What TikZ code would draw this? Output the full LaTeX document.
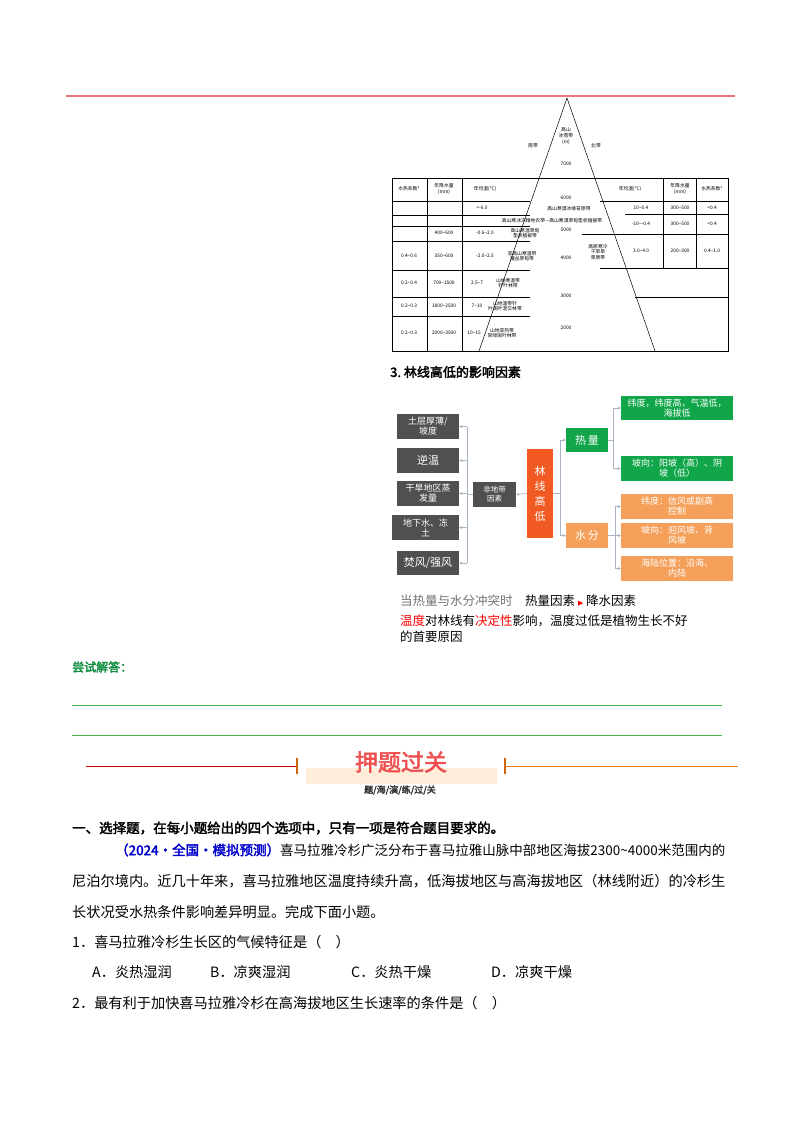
\documentclass[tikz,border=0pt]{standalone}
\usepackage{fontspec}
\usepackage{graphicx}
\setmainfont[AutoFakeBold=2.5]{Noto Sans CJK SC}
\newfontfamily\symf{DejaVu Sans}
\usetikzlibrary{arrows.meta}
\newcommand{\tld}{\textasciitilde}
\definecolor{gbox}{HTML}{505050}
\definecolor{grn}{HTML}{12A64A}
\definecolor{org}{HTML}{F5A05A}
\definecolor{ored}{HTML}{F15A22}
\definecolor{ttl}{HTML}{EE4F4F}
\definecolor{conn}{HTML}{A8B4C4}
\begin{document}
\begin{tikzpicture}[x=1pt,y=-1pt,
  box/.style={draw=none,fill=#1,text=white,inner sep=1pt,align=center,font=\fontsize{9}{10}\selectfont},
  arr/.style={conn,line width=0.7pt,-{Stealth[length=3pt,width=3pt]}},
  cl/.style={conn,line width=0.7pt},
  tb/.style={line width=0.5pt},
  tt/.style={font=\fontsize{4.8}{5.6}\selectfont,inner sep=0pt,align=center},
  body/.style={anchor=west,inner sep=0pt,font=\fontsize{14.2}{15}\selectfont}]
\useasboundingbox (0,0) rectangle (800,1132);
\fill[white] (0,0) rectangle (800,1132);
\draw[ttl!80,line width=1.8pt] (66,96) -- (735,96);
% mountain table
\draw[tb] (392,178) rectangle (728,351);
\draw[tb] (567,98) -- (479,351);
\draw[tb] (567,98) -- (655,351);
\foreach \y in {201,215,226,241,270,297,316} \draw[tb] (392,\y) -- (530,\y);
\draw[tb] (427,178) -- (427,351);
\draw[tb] (462,178) -- (462,351);
\draw[tb] (600,201) -- (728,201);
\draw[tb] (625,214) -- (728,214);
\draw[tb] (582,234) -- (728,234);
\draw[tb] (600,268) -- (728,268);
\draw[tb] (663,178) -- (663,268);
\draw[tb] (696,178) -- (696,268);
\draw[tb] (635,297) -- (728,297);
\node[tt] (m1) at (566,136) {高山\\冰雪带\\(m)};
\node[tt] (m2) at (533,146) {南带};
\node[tt] (m3) at (596,146) {北带};
\foreach \t/\y in {7000/164,6000/198,5000/230,4000/258,3000/296,2000/328} \node[tt] at (566,\y) {\t};
\node[tt] (h1) at (409,189) {水热系数*};
\node[tt] (h2) at (444,189) {年降水量\\(mm)};
\node[tt] (h3) at (485,189) {年均温(℃)};
\node[tt] (h4) at (630,189) {年均温(℃)};
\node[tt] (h5) at (680,189) {年降水量\\(mm)};
\node[tt] (h6) at (712,189) {水热系数*};
\node[tt] at (482,208) {<-6.0};
\node[tt] at (569,209) {高山寒漠冰缘苔原带};
\node[tt] at (552,221) {高山寒冰冻精地衣带—高山寒漠草甸垫状植被带};
\node[tt] at (444,233) {400\tld600}; \node[tt] at (485,233) {-0.6\tld2.0};
\node[tt] at (525,233) {高山寒温草甸\\垫状植被带};
\node[tt] at (409,256) {0.4\tld0.6}; \node[tt] at (444,256) {350\tld600}; \node[tt] at (485,256) {-2.0\tld2.5};
\node[tt] at (522,256) {亚高山寒温带\\灌丛草甸带};
\node[tt] at (409,283) {0.2\tld0.4}; \node[tt] at (444,283) {700\tld1500}; \node[tt] at (477,283) {2.5\tld7};
\node[tt] at (508,283) {山地寒温带\\针叶林带};
\node[tt] at (409,306) {0.2\tld0.3}; \node[tt] at (444,306) {1800\tld2500}; \node[tt] at (477,306) {7\tld10};
\node[tt] at (505,306) {山地温带针\\叶阔叶混交林带};
\node[tt] at (409,333) {0.2\tld0.3}; \node[tt] at (444,333) {2000\tld3500}; \node[tt] at (474,333) {10\tld15};
\node[tt] at (502,333) {山地亚热带\\常绿阔叶林带};
\node[tt] at (641,208) {10\tld0.4}; \node[tt] at (680,208) {300\tld500}; \node[tt] at (712,208) {<0.4};
\node[tt] at (641,224) {-10\tld-0.4}; \node[tt] at (680,224) {300\tld500}; \node[tt] at (712,224) {<0.4};
\node[tt] at (598,252) {高原寒冷\\干旱旱\\草原带};
\node[tt] at (641,251) {3.0\tld4.0}; \node[tt] at (680,251) {200\tld300}; \node[tt] at (712,251) {0.4\tld1.0};
% heading 3
\node[anchor=west,inner sep=0pt,font=\bfseries\fontsize{13}{14}\selectfont] (hd3) at (390,372) {3.\ 林线高低的影响因素};
% flowchart
\node[box=gbox,minimum width=62pt,minimum height=25pt] (g1) at (428,426.5) {土层厚薄/\\坡度};
\node[box=gbox,minimum width=62pt,minimum height=25pt,font=\fontsize{11}{12}\selectfont] (g2) at (428,460.5) {逆温};
\node[box=gbox,minimum width=62pt,minimum height=25pt] (g3) at (428,493.5) {干旱地区蒸\\发量};
\node[box=gbox,minimum width=67pt,minimum height=25pt] (g4) at (425.5,527.5) {地下水、冻\\土};
\node[box=gbox,minimum width=62pt,minimum height=24pt,font=\fontsize{11}{12}\selectfont] (g5) at (428,563) {焚风/强风};
\node[box=gbox,minimum width=43pt,minimum height=25pt,font=\fontsize{7.5}{9}\selectfont] (fd) at (494.5,494.5) {非地带\\因素};
\node[box=ored,minimum width=26pt,minimum height=89pt,font=\fontsize{11}{15}\selectfont] (lx) at (540,493.5) {林\\线\\高\\低};
\node[box=grn,minimum width=42pt,minimum height=24pt,font=\fontsize{11}{12}\selectfont] (rl) at (587,440) {热\,量};
\node[box=org,minimum width=42pt,minimum height=25pt,font=\fontsize{11}{12}\selectfont] (sf) at (587,535.5) {水\,分};
\node[box=grn,minimum width=112pt,minimum height=24pt] (r1) at (677,408) {纬度，纬度高，气温低，\\海拔低};
\node[box=grn,minimum width=112pt,minimum height=25pt] (r2) at (677,468.5) {坡向：阳坡（高）、阴\\坡（低）};
\node[box=org,minimum width=112pt,minimum height=25pt] (o1) at (677,506.5) {纬度：信风或副高\\控制};
\node[box=org,minimum width=112pt,minimum height=25pt] (o2) at (677,535.5) {坡向：迎风坡、背\\风坡};
\node[box=org,minimum width=112pt,minimum height=25pt] (o3) at (677,568.5) {海陆位置：沿海、\\内陆};
\draw[arr] (lx.west) -- (fd.east);
\coordinate (lb) at (467,494.5);
\draw[cl] (fd.west) -- (lb);
\draw[cl] (467,426.5) -- (467,563);
\foreach \n in {g1,g2,g3,g4,g5} \draw[arr] (467,0 |- \n.east) -- (\n.east);
\coordinate (rb) at (560,493.5);
\draw[cl] (lx.east) -- (rb);
\draw[cl] (560,440) -- (560,535.5);
\foreach \n in {rl,sf} \draw[arr] (560,0 |- \n.west) -- (\n.west);
\coordinate (hb) at (613,440);
\draw[cl] (rl.east) -- (hb);
\draw[cl] (613,408) -- (613,468.5);
\foreach \n in {r1,r2} \draw[arr] (613,0 |- \n.west) -- (\n.west);
\coordinate (sb) at (615,535.5);
\draw[cl] (sf.east) -- (sb);
\draw[cl] (615,506.5) -- (615,568.5);
\foreach \n in {o1,o2,o3} \draw[arr] (615,0 |- \n.west) -- (\n.west);
\node[anchor=west,inner sep=0pt,font=\fontsize{12.5}{13}\selectfont] (c1) at (400,601) {\textcolor{gray!90!black}{当热量与水分冲突时}\quad 热量因素 {\symf\textcolor{red}{\fontsize{7}{8}\selectfont ▶}} 降水因素};
\node[anchor=west,inner sep=0pt,font=\fontsize{12.5}{13}\selectfont] (c2) at (400,621) {\textcolor{red}{温度}对林线有\textcolor{red}{决定性}影响，温度过低是植物生长不好};
\node[anchor=west,inner sep=0pt,font=\fontsize{12.5}{13}\selectfont] (c3) at (400,637) {的首要原因};
% try answer
\node[anchor=west,inner sep=0pt,font=\bfseries\fontsize{12}{13}\selectfont,text=grn!85!black] (ta) at (72,667) {尝试解答：};
\draw[green!40!gray,line width=0.6pt] (72,705) -- (722,705);
\draw[green!40!gray,line width=0.6pt] (72,735) -- (722,735);
% banner
\fill[orange!15] (306,768) rectangle (497,784);
\draw[red!80!black,line width=1pt] (86,766) -- (297,766);
\draw[orange!80!black,line width=1.6pt] (297,758) -- (297,774);
\draw[orange!80!black,line width=1.6pt] (505,758) -- (505,774);
\draw[orange!70!brown,line width=1pt] (505,766) -- (738,766);
\node[font=\bfseries\fontsize{23}{24}\selectfont,text=ttl,inner sep=0pt] (bt) at (401,762) {押题过关};
\node[font=\bfseries\fontsize{9}{10}\selectfont,text=black!80,inner sep=0pt] (bs) at (400,790) {题/海/演/练/过/关};
\node[anchor=west,inner sep=0pt,font=\bfseries\fontsize{13.5}{14}\selectfont] (q0) at (72,828) {一、选择题，在每小题给出的四个选项中，只有一项是符合题目要求的。};
\node[body] (p1) at (115,850) {\resizebox{610pt}{!}{\textcolor{blue!80!black}{\bfseries（2024·全国·模拟预测）}喜马拉雅冷杉广泛分布于喜马拉雅山脉中部地区海拔2300\tld 4000米范围内的}};
\node[body] (p2) at (72,881) {尼泊尔境内。近几十年来，喜马拉雅地区温度持续升高，低海拔地区与高海拔地区（林线附近）的冷杉生};
\node[body] (p3) at (72,912) {长状况受水热条件影响差异明显。完成下面小题。};
\node[body] (q1) at (72,942) {1．喜马拉雅冷杉生长区的气候特征是（　）};
\node[body] (a1) at (92,972) {A．炎热湿润};
\node[body] (a2) at (210,972) {B．凉爽湿润};
\node[body] (a3) at (351,972) {C．炎热干燥};
\node[body] (a4) at (491,972) {D．凉爽干燥};
\node[body] (q2) at (72,1003) {2．最有利于加快喜马拉雅冷杉在高海拔地区生长速率的条件是（　）};
\end{tikzpicture}
\end{document}
